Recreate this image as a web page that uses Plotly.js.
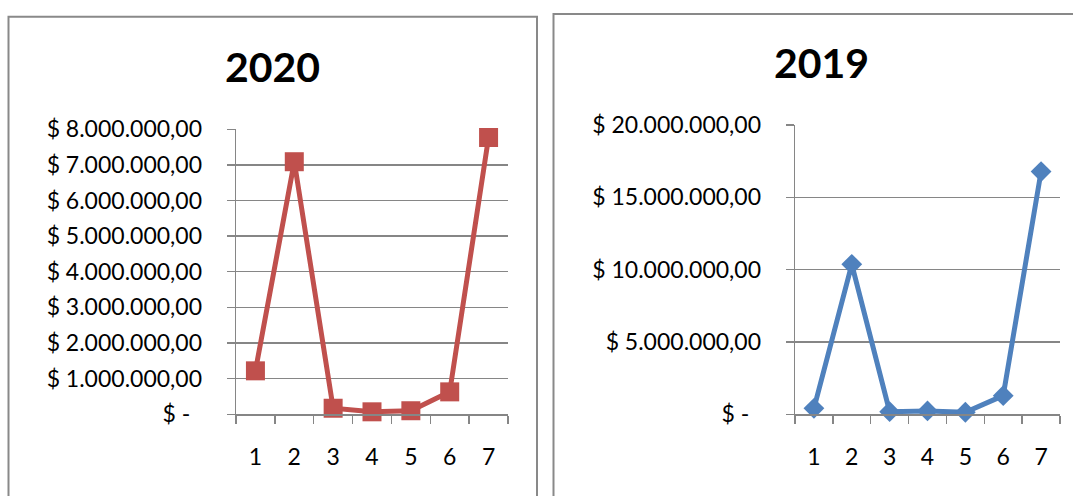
<!DOCTYPE html>
<html>
<head>
<meta charset="utf-8">
<script src="https://cdn.plot.ly/plotly-3.0.1.min.js"></script>
<style>
  html, body { margin: 0; padding: 0; background: #ffffff; }
  #chart { width: 1073px; height: 496px; }
</style>
</head>
<body>
<div id="chart"></div>
<script>
// ---- data ----
const categories = ['1', '2', '3', '4', '5', '6', '7'];
const values2020 = [1220000, 7090000, 170000, 70000, 100000, 630000, 7770000];
const values2019 = [410000, 10370000, 180000, 230000, 140000, 1290000, 16780000];

const tickVals2020 = [0, 1000000, 2000000, 3000000, 4000000, 5000000, 6000000, 7000000, 8000000];
const tickText2020 = ['$ -\u00a0\u00a0', '$ 1.000.000,00', '$ 2.000.000,00', '$ 3.000.000,00', '$ 4.000.000,00',
                      '$ 5.000.000,00', '$ 6.000.000,00', '$ 7.000.000,00', '$ 8.000.000,00'];
const tickVals2019 = [0, 5000000, 10000000, 15000000, 20000000];
const tickText2019 = ['$ -\u00a0\u00a0', '$ 5.000.000,00', '$ 10.000.000,00', '$ 15.000.000,00', '$ 20.000.000,00'];

const title2020 = '2020';
const title2019 = '2019';

// ---- layout helpers ----
const W = 1073, H = 496;
const px = v => v / W;
const py = v => 1 - v / H;

const xNum = categories.map(Number);
const bounds = xNum.map(v => v - 0.5).concat([xNum[xNum.length - 1] + 0.5]);

const GRID = '#868686';
const FONT = 'Lato, "Open Sans", sans-serif';

function xAxis(domain) {
  return {
    domain: domain,
    range: [bounds[0], bounds[bounds.length - 1]],
    tickmode: 'array',
    tickvals: xNum,
    ticktext: categories,
    ticks: '',
    showgrid: false,
    zeroline: false,
    showline: true,
    linecolor: GRID,
    linewidth: 1.4,
    ticklabelstandoff: 22,
    tickfont: { family: FONT, size: 23, color: '#000' },
    minor: { tickmode: 'array', tickvals: bounds, ticks: 'outside', ticklen: 8, tickcolor: GRID, tickwidth: 1.4, showgrid: false },
    fixedrange: true
  };
}
function yAxis(domain, range, vals, text, anchor) {
  return {
    domain: domain,
    range: range,
    anchor: anchor,
    tickmode: 'array',
    tickvals: vals,
    ticktext: text,
    ticks: 'outside',
    ticklen: 8,
    tickcolor: GRID,
    tickwidth: 1.4,
    showgrid: true,
    gridcolor: GRID,
    gridwidth: 1.4,
    zeroline: false,
    showline: true,
    linecolor: GRID,
    linewidth: 1.4,
    ticklabelstandoff: 20,
    tickfont: { family: FONT, size: 23, color: '#000' },
    fixedrange: true
  };
}

const traces = [
  {
    x: xNum, y: values2020, xaxis: 'x', yaxis: 'y',
    type: 'scatter', mode: 'lines+markers', cliponaxis: false,
    line: { color: '#C0504D', width: 5 },
    marker: { symbol: 'square', size: 19, color: '#C0504D' },
    hoverinfo: 'skip', showlegend: false
  },
  {
    x: xNum, y: values2019, xaxis: 'x2', yaxis: 'y2',
    type: 'scatter', mode: 'lines+markers', cliponaxis: false,
    line: { color: '#4F81BD', width: 5 },
    marker: { symbol: 'diamond', size: 16, color: '#4F81BD' },
    hoverinfo: 'skip', showlegend: false
  }
];

const layout = {
  width: W, height: H,
  margin: { l: 0, r: 0, t: 0, b: 0, pad: 0 },
  paper_bgcolor: '#ffffff',
  plot_bgcolor: '#ffffff',
  showlegend: false,
  xaxis: Object.assign(xAxis([px(236), px(508)]), { anchor: 'y' }),
  yaxis: yAxis([py(414.3), py(129.3)], [0, 8000000], tickVals2020, tickText2020, 'x'),
  xaxis2: Object.assign(xAxis([px(795), px(1060)]), { anchor: 'y2' }),
  yaxis2: yAxis([py(414.3), py(125)], [0, 20000000], tickVals2019, tickText2019, 'x2'),
  shapes: [
    { type: 'rect', xref: 'paper', yref: 'paper', x0: px(8.5), x1: px(537), y0: py(520), y1: py(16.7),
      line: { color: '#898989', width: 2 }, fillcolor: 'rgba(0,0,0,0)', layer: 'below' },
    { type: 'rect', xref: 'paper', yref: 'paper', x0: px(553.5), x1: px(1100), y0: py(520), y1: py(14),
      line: { color: '#898989', width: 2 }, fillcolor: 'rgba(0,0,0,0)', layer: 'below' }
  ],
  annotations: [
    { text: title2020, xref: 'paper', yref: 'paper', x: px(272), y: py(67), xanchor: 'center', yanchor: 'middle',
      showarrow: false, font: { family: FONT, size: 41, weight: 'bold', color: '#000' } },
    { text: title2019, xref: 'paper', yref: 'paper', x: px(821), y: py(62), xanchor: 'center', yanchor: 'middle',
      showarrow: false, font: { family: FONT, size: 41, weight: 'bold', color: '#000' } }
  ]
};

Plotly.newPlot('chart', traces, layout, { displayModeBar: false, staticPlot: true });
</script>
</body>
</html>
